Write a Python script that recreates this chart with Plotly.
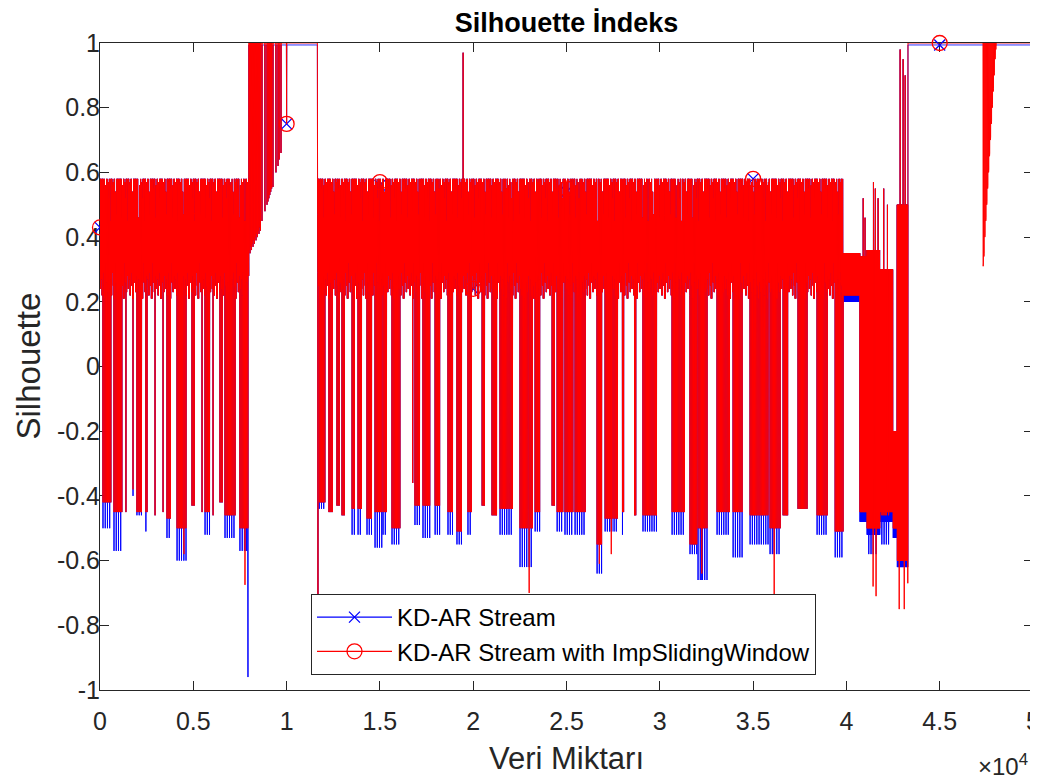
import numpy as np
import plotly.graph_objects as go

# ---------------- data ----------------
STEP = 10
X_MAX = 50000

# oscillating band segments (x start, x end, low red, low blue, high)
band_x0 = [0, 11660, 39830, 40730, 41100, 41800, 42500, 42720]
band_x1 = [7980, 39830, 40730, 41100, 41800, 42500, 42720, 43300]
band_hi = [0.58, 0.58, 0.35, 0.34, 0.36, 0.30, -0.20, 0.50]
band_lo_red = [0.24, 0.24, 0.22, -0.45, -0.50, -0.45, -0.50, -0.60]
band_lo_blue = [0.24, 0.24, 0.20, -0.48, -0.52, -0.48, -0.53, -0.62]

# ragged edges of the band (offsets read along the top / bottom edge, one per ~1 px)
band_top_offsets = [0.0, -0.01, 0.0, -0.03, 0.0, -0.12, -0.02, 0.0, -0.01, -0.06,
                    0.0, -0.13, 0.0, -0.02, -0.01, 0.0, -0.04, -0.11]
band_bottom_offsets = [0.0, 0.03, -0.02, 0.05, 0.01, -0.03, 0.08, 0.02, -0.01, 0.04]

# flat plateaus near 1
flat_x0 = [7980, 43300]
flat_x1 = [11660, 50001]
flat_red = [1.0, 1.0]
flat_blue = [0.994, 0.994]

# clusters of downward dips (x start, x end, depth red, depth blue)
dip_x0 = [160, 750, 1390, 1770, 1980, 2460, 2950, 3380, 3590, 4130, 4930, 5470,
          5630, 6060, 6430, 6700, 7500,
          11750, 12270, 12700, 12970, 13510, 13830, 14310, 14740, 15170, 15650,
          16760, 16880, 17310, 17960, 18650, 19130, 19720, 20480, 21010, 21440,
          22510, 23320, 24230, 24500, 24920, 25460, 26640, 27070, 28000, 28650,
          29100, 30660, 31620, 32050, 33070, 33930, 34840, 35910, 36610, 37410,
          38430, 39400,
          41200, 41900]
dip_x1 = [590, 1180, 1440, 1820, 2250, 2520, 3000, 3430, 3810, 4660, 5090, 5520,
          5900, 6110, 6590, 7240, 7960,
          12060, 12490, 12860, 13130, 13670, 14040, 14580, 15120, 15380, 16080,
          16800, 17150, 17690, 18220, 18920, 19420, 19940, 20640, 21280, 22140,
          23210, 23580, 24390, 24820, 25350, 26000, 26910, 27760, 28060, 28710,
          29860, 31360, 32000, 32540, 33770, 34460, 35800, 36450, 36880, 37890,
          38970, 39830,
          41500, 42300]
dip_red = [-0.42, -0.45, -0.45, -0.38, -0.45, -0.45, -0.46, -0.45, -0.47, -0.50, -0.43, -0.45,
           -0.45, -0.46, -0.42, -0.46, -0.50,
           -0.42, -0.45, -0.43, -0.46, -0.44, -0.44, -0.47, -0.45, -0.45, -0.50,
           -0.36, -0.43, -0.43, -0.43, -0.45, -0.51, -0.45, -0.43, -0.46, -0.44,
           -0.50, -0.45, -0.43, -0.45, -0.45, -0.45, -0.55, -0.47, -0.45, -0.46,
           -0.46, -0.45, -0.55, -0.50, -0.45, -0.45, -0.46, -0.50, -0.46, -0.44,
           -0.46, -0.51,
           -0.50, -0.46]
dip_blue = [-0.50, -0.57, -0.45, -0.40, -0.46, -0.51, -0.46, -0.45, -0.53, -0.60, -0.43, -0.45,
            -0.52, -0.46, -0.42, -0.53, -0.57,
            -0.44, -0.45, -0.43, -0.46, -0.52, -0.52, -0.52, -0.56, -0.52, -0.55,
            -0.36, -0.49, -0.53, -0.52, -0.52, -0.55, -0.52, -0.43, -0.46, -0.52,
            -0.62, -0.51, -0.43, -0.51, -0.52, -0.52, -0.64, -0.51, -0.52, -0.46,
            -0.51, -0.52, -0.58, -0.66, -0.52, -0.59, -0.55, -0.58, -0.46, -0.44,
            -0.52, -0.59,
            -0.58, -0.55]

# isolated single spikes
spike_x = [4500, 7770, 7930, 11680, 19460, 23000, 26760, 27400, 32250, 36130,
           40900, 41000, 41430, 41450, 41550, 41590, 41700, 42000, 42200,
           42830, 42880, 43040, 43100, 43150, 43290]
spike_red = [-0.58, -0.675, -0.50, -0.72, 0.97, -0.70, -0.61, -0.58, -0.64, -0.71,
             0.52, 0.46, -0.68, 0.57, 0.55, -0.71, 0.52, 0.55, 0.50,
             -0.75, 0.98, 0.95, -0.75, 0.90, -0.67]
spike_blue = [-0.60, -0.57, -0.96, -0.72, 0.97, -0.62, -0.64, -0.51, -0.66, -0.58,
              0.52, 0.46, -0.58, 0.57, 0.55, -0.58, 0.52, 0.55, 0.50,
              -0.62, 0.98, 0.95, -0.62, 0.90, -0.62]

# transition drops after the first band (both series)
trans_x = [8000, 8040, 8080, 8120, 8160, 8200, 8240, 8280, 8320, 8360, 8400, 8440,
           8480, 8520, 8560, 8600, 8680, 8840, 8950, 9000, 9050, 9100, 9150, 9200,
           9270, 9430, 9540, 9600, 9700, 10000]
trans_y = [0.36, 0.35, 0.37, 0.36, 0.38, 0.37, 0.39, 0.38, 0.40, 0.39, 0.41, 0.40,
           0.42, 0.41, 0.43, 0.42, 0.45, 0.48, 0.50, 0.51, 0.52, 0.53, 0.54, 0.55,
           0.555, 0.60, 0.62, 0.64, 0.66, 0.75]

# red wedge near 4.75e4
wedge_x = [47330, 47370, 47420, 47470, 47520, 47570, 47620, 47670, 47720, 47770,
           47820, 47870, 47920, 47970, 48010]
wedge_y = [0.31, 0.34, 0.40, 0.45, 0.50, 0.55, 0.60, 0.65, 0.70, 0.75,
           0.80, 0.85, 0.90, 0.95, 0.98]

# markers every 5000 samples
mark_x = [0, 5000, 10000, 15000, 20000, 25000, 30000, 35000, 40000, 45000]
mark_red = [0.43, 0.45, 0.75, 0.57, 0.24, 0.55, 0.45, 0.58, 0.25, 1.0]
mark_blue = [0.43, 0.45, 0.75, 0.56, 0.24, 0.54, 0.45, 0.58, 0.25, 0.994]

x_ticks = [0, 5000, 10000, 15000, 20000, 25000, 30000, 35000, 40000, 45000, 50000]
x_tick_text = ["0", "0.5", "1", "1.5", "2", "2.5", "3", "3.5", "4", "4.5", "5"]
y_ticks = [-1, -0.8, -0.6, -0.4, -0.2, 0, 0.2, 0.4, 0.6, 0.8, 1]
y_tick_text = ["-1", "-0.8", "-0.6", "-0.4", "-0.2", "0", "0.2", "0.4", "0.6", "0.8", "1"]

# ---------------- build series ----------------
x = np.arange(0, X_MAX + 1, STEP)
k = np.arange(x.size)
CHUNK = 5          # grid points per edge offset (~1 px)
DIP_EVERY = 6      # grid points between dip lines inside a cluster (~1.1 px)

top_off = np.array(band_top_offsets)[(k // CHUNK) % len(band_top_offsets)]
bot_off = np.array(band_bottom_offsets)[(k // CHUNK) % len(band_bottom_offsets)]


def build(lo_list, flat_vals, dip_vals, spike_vals, wedge):
    y = np.full(x.size, np.nan)
    for x0, x1, f in zip(flat_x0, flat_x1, flat_vals):
        m = (x >= x0) & (x < x1)
        y[m] = f
    for j, (x0, x1, lo, hi) in enumerate(zip(band_x0, band_x1, lo_list, band_hi)):
        m = (x >= x0) & (x < x1)
        if j < 2:
            hi_v = hi + top_off[m]
            lo_v = lo + bot_off[m]
        else:
            hi_v = np.full(m.sum(), hi)
            lo_v = np.full(m.sum(), lo)
        y[m] = np.where(k[m] % 2 == 0, hi_v, lo_v)
    for x0, x1, d, d_red in zip(dip_x0, dip_x1, dip_vals, dip_red):
        i0 = int(np.ceil(x0 / STEP))
        i1 = int(x1 // STEP)
        idx = np.arange(i0, i1 + 1, DIP_EVERY)
        if idx.size == 0:
            idx = np.array([(i0 + i1) // 2])
        y[idx] = d_red
        y[idx[::2]] = d          # only part of the lines go deeper for the blue run
    for xs, v in zip(trans_x, trans_y):
        y[int(round(xs / STEP))] = v
    for xs, v in zip(spike_x, spike_vals):
        y[int(round(xs / STEP))] = v
    if wedge:
        for xs, v in zip(wedge_x, wedge_y):
            i = int(round(xs / STEP))
            y[i] = v
            y[i + 1] = v + 0.01
    return y


y_blue = build(band_lo_blue, flat_blue, dip_blue, spike_blue, False)
y_red = build(band_lo_red, flat_red, dip_red, spike_red, True)

BLUE = "#0000FF"
RED = "#FF0000"
FONT = "Liberation Sans, Arial, sans-serif"
TXT = "#262626"

fig = go.Figure()
fig.add_trace(go.Scatter(x=x, y=y_blue, mode="lines",
                         line=dict(color=BLUE, width=1, simplify=False),
                         showlegend=False, hoverinfo="skip"))
fig.add_trace(go.Scatter(x=mark_x, y=mark_blue, mode="markers", cliponaxis=False,
                         marker=dict(symbol="x-thin", size=11, line=dict(width=1.3, color=BLUE)),
                         showlegend=False))
fig.add_trace(go.Scatter(x=x, y=y_red, mode="lines",
                         line=dict(color=RED, width=1, simplify=False),
                         showlegend=False, hoverinfo="skip"))
fig.add_trace(go.Scatter(x=mark_x, y=mark_red, mode="markers", cliponaxis=False,
                         marker=dict(symbol="circle-open", size=15, color=RED, line=dict(width=1.3)),
                         showlegend=False))
# legend entries
fig.add_trace(go.Scatter(x=[None], y=[None], mode="lines+markers", name="KD-AR Stream",
                         line=dict(color=BLUE, width=1.3),
                         marker=dict(symbol="x-thin", size=11, line=dict(width=1.3, color=BLUE))))
fig.add_trace(go.Scatter(x=[None], y=[None], mode="lines+markers",
                         name="KD-AR Stream with ImpSlidingWindow",
                         line=dict(color=RED, width=1.3),
                         marker=dict(symbol="circle-open", size=15, color=RED, line=dict(width=1.3))))

axis_common = dict(showline=True, linecolor=TXT, linewidth=1, mirror="ticks",
                   ticks="inside", ticklen=9, tickwidth=1, tickcolor=TXT,
                   showgrid=False, zeroline=False, layer="below traces",
                   ticklabeloverflow="allow", automargin=False,
                   tickfont=dict(family=FONT, size=25, color=TXT))

# the page body has an 8 px margin: figure is 8 px smaller and offset accordingly
W, H = 1030, 774
fig.update_layout(
    width=W, height=H,
    margin=dict(l=92, r=5, t=35, b=92, autoexpand=False),
    paper_bgcolor="white", plot_bgcolor="white",
    font=dict(family=FONT, color=TXT),
    title=dict(text="<b>Silhouette İndeks</b>", x=0.5, xref="paper", xanchor="center",
               y=1 - 15 / H, yref="container", yanchor="middle",
               font=dict(family=FONT, size=27, color="#000000")),
    xaxis=dict(range=[0, X_MAX], tickvals=x_ticks, ticktext=x_tick_text,
               ticklabelstandoff=9, **axis_common),
    yaxis=dict(range=[-1, 1], tickvals=y_ticks, ticktext=y_tick_text,
               ticklabelstandoff=-6, **axis_common),
    legend=dict(x=(311 - 100) / 933, y=(690 - 594) / 647, xanchor="left", yanchor="top",
                bgcolor="white", bordercolor=TXT, borderwidth=1,
                font=dict(family=FONT, size=24, color="#000000"),
                itemwidth=75, tracegroupgap=0),
    annotations=[
        dict(text="Veri Miktarı", xref="paper", yref="paper", x=0.5, y=-(758 - 690) / 647,
             xanchor="center", yanchor="middle", showarrow=False,
             font=dict(family=FONT, size=31, color=TXT)),
        dict(text="Silhouette", xref="paper", yref="paper", x=(28 - 100) / 933, y=0.5,
             xanchor="center", yanchor="middle", textangle=-90, showarrow=False,
             font=dict(family=FONT, size=33, color=TXT)),
        dict(text="×10<sup>4</sup>", xref="paper", yref="paper", x=(1030 - 100) / 933,
             y=-(765 - 690) / 647, xanchor="right", yanchor="middle", showarrow=False,
             font=dict(family=FONT, size=24, color=TXT)),
    ],
)

fig.write_html("out.html")
